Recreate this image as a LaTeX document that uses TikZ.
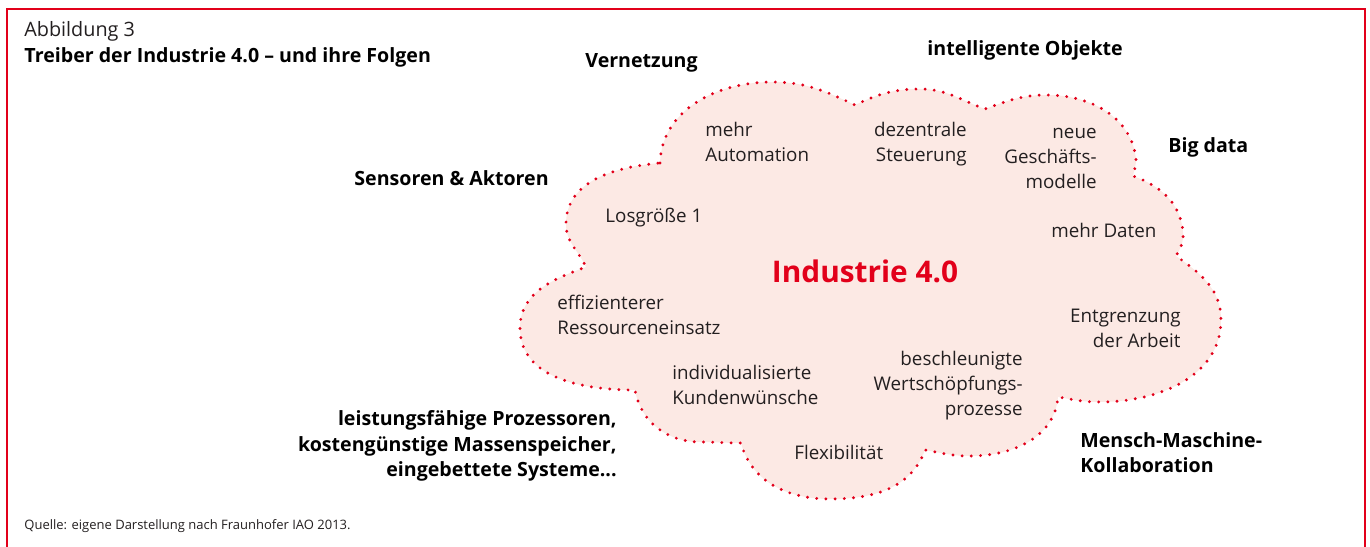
\documentclass[tikz,border=0pt]{standalone}
\usepackage{fontspec}
\setmainfont{Open Sans}
\usepackage{tikz}
\usepackage{xcolor}

\definecolor{iaored}{RGB}{226,0,26}
\definecolor{cloudpink}{RGB}{252,233,228}
\definecolor{darktext}{RGB}{35,31,32}

\begin{document}
\begin{tikzpicture}[x=0.5pt, y=0.5pt,
    driver/.style={font=\fontsize{9.8}{12.8}\selectfont\bfseries, text=black, inner sep=0pt},
    effect/.style={font=\fontsize{9.4}{12.6}\selectfont, text=darktext, inner sep=0pt},
    cloudline/.style={iaored, line width=1.6pt, line cap=round, dash pattern=on 0pt off 4.6pt}]
    \useasboundingbox (0,0) rectangle (1370,546);

    % Frame
    \draw[iaored, line width=1pt] (7,-5) -- (7,537) -- (1365,537) -- (1365,-5);

    % Heading and source
    \node[effect, anchor=base west, font=\fontsize{9.9}{12}\selectfont] (fignum) at (24,509) {Abbildung 3};
    \node[driver, anchor=base west] (figtitle) at (24,483) {Treiber der Industrie 4.0 – und ihre Folgen};
    \node[effect, anchor=base west, font=\fontsize{6.5}{8}\selectfont] (source) at (24,17)
        {Quelle: eigene Darstellung nach Fraunhofer IAO 2013.};

    % Cloud
    \draw[cloudline, fill=cloudpink] (660,383)
        to[out=88,in=180] (772,464)
        to[out=0,in=155] (855,441)
        to[out=25,in=180] (920,457)
        to[out=0,in=160] (985,437)
        to[out=20,in=180] (1047,451)
        to[out=0,in=95] (1136,386)
        to[out=-90,in=80] (1133,370)
        to[out=-20,in=95] (1183,314)
        to[out=-85,in=60] (1176,290)
        to[out=-35,in=90] (1221,226)
        to[out=-90,in=0] (1100,144)
        to[out=180,in=-10] (1058,149)
        to[out=-95,in=0] (970,90)
        to[out=180,in=-10] (925,96)
        to[out=-110,in=0] (830,47)
        to[out=180,in=-75] (741,103)
        to[out=180,in=0] (700,104)
        to[out=180,in=-80] (635,156)
        to[out=180,in=-90] (520,218)
        to[out=90,in=-160] (586,279)
        to[out=115,in=-90] (566,322)
        to[out=90,in=185] cycle;

    \node[anchor=base, inner sep=0pt, text=iaored, font=\fontsize{14.9}{16}\selectfont\bfseries] (industrie) at (865,263) {Industrie 4.0};

    % Effects inside the cloud (anchored at the last line)
    \node[effect, anchor=base west, align=left] (automation) at (705,384) {mehr\\Automation};
    \node[effect, anchor=base east, align=right] (steuerung) at (967,384) {dezentrale\\Steuerung};
    \node[effect, anchor=base east, align=right] (modelle) at (1097,357) {neue\\Geschäfts-\\modelle};
    \node[effect, anchor=base west] (losgroesse) at (605,323) {Losgröße 1};
    \node[effect, anchor=base west] (daten) at (1051,308) {mehr Daten};
    \node[effect, anchor=base west, align=left] (ressourcen) at (557,211) {effizienterer\\Ressourceneinsatz};
    \node[effect, anchor=base east, align=right] (arbeit) at (1181,198) {Entgrenzung\\der Arbeit};
    \node[effect, anchor=base west, align=left] (kunden) at (672,141) {individualisierte\\Kundenwünsche};
    \node[effect, anchor=base east, align=right] (wertschoepfung) at (1023,130) {beschleunigte\\Wertschöpfungs-\\prozesse};
    \node[effect, anchor=base west] (flexibilitaet) at (794,86) {Flexibilität};

    % Drivers around the cloud
    \node[driver, anchor=base west] (vernetzung) at (585,478) {Vernetzung};
    \node[driver, anchor=base west] (objekte) at (927,490) {intelligente Objekte};
    \node[driver, anchor=base west] (bigdata) at (1168,393) {Big data};
    \node[driver, anchor=base west] (sensoren) at (354,360) {Sensoren \& Aktoren};
    \node[driver, anchor=base east, align=right] (prozessoren) at (617,69)
        {leistungsfähige Prozessoren,\\kostengünstige Massenspeicher,\\eingebettete Systeme...};
    \node[driver, anchor=base west, align=left] (kollaboration) at (1080,73) {Mensch-Maschine-\\Kollaboration};
\end{tikzpicture}
\end{document}
